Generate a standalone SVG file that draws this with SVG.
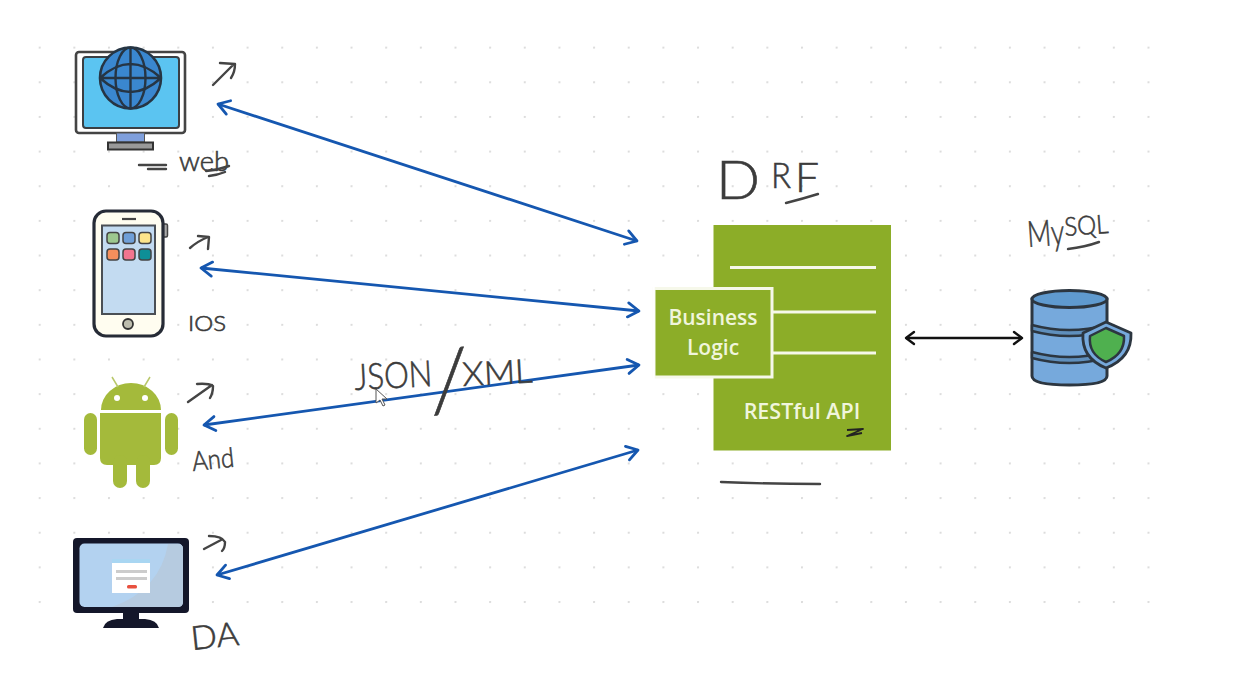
<svg xmlns="http://www.w3.org/2000/svg" width="1257" height="691" viewBox="0 0 1257 691">
<style>
.hand{font-family:"Lato","Open Sans",sans-serif;font-weight:300;fill:#3c3c3c;stroke:#3c3c3c;stroke-width:.6}
.ink{fill:none;stroke:#444;stroke-width:2.4;stroke-linecap:round;stroke-linejoin:round}
.lab{font-family:"Open Sans","Liberation Sans",sans-serif;font-weight:600;fill:#f0f5dc;text-anchor:middle}
.blue{fill:none;stroke:#1557b0;stroke-width:2.8;marker-start:url(#bs);marker-end:url(#be)}
.black{fill:none;stroke:#111;stroke-width:2.4;marker-start:url(#ks);marker-end:url(#ke)}
.globe{fill:none;stroke:#263544;stroke-width:2.4}
.db{fill:#76a9dc;stroke:#2c3640;stroke-width:3}
</style>
<defs>
<pattern id="dots" x="38.7" y="12" width="34.65" height="34.65" patternUnits="userSpaceOnUse"><circle cx="1" cy="1" r="1.1" fill="#d9d9d9"/></pattern>
<marker id="be" markerUnits="userSpaceOnUse" markerWidth="20" markerHeight="20" refX="16" refY="10" orient="auto"><path d="M5 3L16 10L5 17" fill="none" stroke="#1557b0" stroke-width="2.8" stroke-linecap="round" stroke-linejoin="round"/></marker>
<marker id="bs" markerUnits="userSpaceOnUse" markerWidth="20" markerHeight="20" refX="4" refY="10" orient="auto"><path d="M15 3L4 10L15 17" fill="none" stroke="#1557b0" stroke-width="2.8" stroke-linecap="round" stroke-linejoin="round"/></marker>
<marker id="ke" markerUnits="userSpaceOnUse" markerWidth="16" markerHeight="16" refX="13" refY="8" orient="auto"><path d="M5 2L13 8L5 14" fill="none" stroke="#111" stroke-width="2.4" stroke-linecap="round" stroke-linejoin="round"/></marker>
<marker id="ks" markerUnits="userSpaceOnUse" markerWidth="16" markerHeight="16" refX="3" refY="8" orient="auto"><path d="M11 2L3 8L11 14" fill="none" stroke="#111" stroke-width="2.4" stroke-linecap="round" stroke-linejoin="round"/></marker>
</defs>
<rect width="1257" height="691" fill="#fff"/>
<rect x="38" y="46" width="1115" height="570" fill="url(#dots)"/>

<g id="web">
<rect x="76" y="52" width="109" height="81" rx="3" fill="#fff" stroke="#444" stroke-width="2.6"/>
<rect x="83" y="57" width="96" height="71" rx="3" fill="#5bc4f1" stroke="#3a3f44" stroke-width="2"/>
<rect x="116.500" y="133" width="28" height="9" fill="#7f9fdc" stroke="#555" stroke-width="1"/>
<rect x="108" y="142.500" width="45" height="7" fill="#999" stroke="#333" stroke-width="2"/>
<circle cx="130.500" cy="78" r="30.500" fill="#3a87cf" stroke="#263544" stroke-width="2.600"/>
<ellipse class="globe" cx="130.500" cy="78" rx="15" ry="30.500"/>
<path class="globe" d="M130.500 47.500V108.500M100 78H161M100 78Q130.500 50 161 78M100 78Q130.500 106 161 78"/>
<path class="ink" d="M139 165H166M148 169H166"/>
<text class="hand" x="179" y="171" font-size="27" textLength="50" lengthAdjust="spacingAndGlyphs">web</text>
<path class="ink" d="M206 171Q218 170 229 166M209 176Q218 175 225 172"/>
</g>

<g id="ios">
<rect x="160" y="224" width="7.500" height="13" rx="1.500" fill="#aaa" stroke="#444" stroke-width="1.500"/>
<rect x="94" y="211" width="69" height="125" rx="12" fill="#fffdf0" stroke="#262b36" stroke-width="3.200"/>
<rect x="102" y="225.500" width="53" height="88.500" fill="#c3dbf1" stroke="#4a4f55" stroke-width="2"/>
<path d="M122 219H136" stroke="#444" stroke-width="2.200"/>
<circle cx="128" cy="324" r="5" fill="#bdbdae" stroke="#333" stroke-width="1.800"/>
<g stroke="#444" stroke-width="1.500">
<rect x="107" y="232.500" width="12" height="11" rx="3" fill="#9dc88f"/>
<rect x="123" y="232.500" width="12" height="11" rx="3" fill="#6f9fd8"/>
<rect x="139" y="232.500" width="12" height="11" rx="3" fill="#fde58b"/>
<rect x="107" y="249" width="12" height="11" rx="3" fill="#f58f5c"/>
<rect x="123" y="249" width="12" height="11" rx="3" fill="#f2748f"/>
<rect x="139" y="249" width="12" height="11" rx="3" fill="#0e8f97"/>
</g>
<text class="hand" x="188" y="331" font-size="21" textLength="38" lengthAdjust="spacingAndGlyphs">IOS</text>
</g>

<g id="android">
<g fill="#a4ba3b">
<path d="M101 410A30 27 0 0 1 161 410Z"/>
<path d="M100 413H161V458Q161 465 154 465H107Q100 465 100 458Z"/>
<rect x="84" y="413" width="13" height="42" rx="6.500"/>
<rect x="165" y="413" width="13" height="42" rx="6.500"/>
<rect x="113" y="455" width="14" height="33" rx="7"/>
<rect x="136" y="455" width="14" height="33" rx="7"/>
</g>
<path d="M112 377L118 387M150 377L144 387" stroke="#b9c86a" stroke-width="1.500"/>
<circle cx="117" cy="398" r="3" fill="#fff"/><circle cx="145" cy="398" r="3" fill="#fff"/>
<text class="hand" x="193" y="471" font-size="27" textLength="42" lengthAdjust="spacingAndGlyphs" transform="rotate(-6 193 471)">And</text>
</g>

<g id="desktop-app">
<rect x="73" y="538" width="116" height="75" rx="4" fill="#14172a"/>
<rect x="79.500" y="543.500" width="103.500" height="63.500" rx="5" fill="#b3d2f0"/>
<path d="M168 544Q160 590 112 607H178Q183 607 183 602V549Q183 544 178 544Z" fill="#b6cbe0"/>
<rect x="112" y="559" width="38" height="34" fill="#fff"/>
<rect x="112" y="559" width="38" height="4" fill="#a9d6f2"/>
<rect x="116" y="570" width="31" height="3" fill="#ccc"/>
<rect x="116" y="577" width="31" height="3" fill="#ccc"/>
<rect x="127" y="585" width="10" height="3.500" rx="1.500" fill="#e8503f"/>
<rect x="123" y="613" width="16" height="8" fill="#14172a"/>
<path d="M103 628Q105 620 117 619H145Q157 620 159 628Z" fill="#14172a"/>
<text class="hand" x="192" y="650" font-size="33" textLength="48" lengthAdjust="spacingAndGlyphs" transform="rotate(-6 192 650)">DA</text>
</g>

<g id="api">
<text class="hand" x="716" y="199" font-size="54" textLength="44" lengthAdjust="spacingAndGlyphs">D</text>
<text class="hand" x="771" y="188" font-size="36" textLength="20" lengthAdjust="spacingAndGlyphs">R</text>
<text class="hand" x="795" y="192" font-size="42" textLength="24" lengthAdjust="spacingAndGlyphs">F</text>
<path class="ink" d="M786 203Q802 199 818 194" stroke-width="2.600"/>
<rect x="713.500" y="225" width="177.500" height="225.500" fill="#8cad28"/>
<path d="M730 267.500H876M772 312H876M772 353H876" stroke="#f6f8ea" stroke-width="3" fill="none"/>
<rect x="654" y="288.500" width="118" height="88.500" fill="#8cad28" stroke="#f6f8ea" stroke-width="3"/>
<path d="M653.500 287V379" stroke="#fff" stroke-width="2.500"/>
<text class="lab" x="713" y="325" font-size="21">Business</text>
<text class="lab" x="713" y="355" font-size="21">Logic</text>
<text class="lab" x="802" y="419" font-size="21.500">RESTful API</text>
<path d="M847 430L863 429L847 436L862 433" fill="none" stroke="#222" stroke-width="1.800" stroke-linejoin="round"/>
<path d="M721 482Q770 484 820 484" class="ink" stroke-width="1.800"/>
</g>

<g id="mysql">
<text class="hand" x="1028" y="247" font-size="36" textLength="37" lengthAdjust="spacingAndGlyphs" transform="rotate(-4 1028 247)">My</text>
<text class="hand" x="1065" y="236" font-size="26" textLength="44" lengthAdjust="spacingAndGlyphs" transform="rotate(-4 1065 236)">SQL</text>
<path class="ink" d="M1068 249Q1085 247 1099 242"/>
<path class="db" d="M1032 299V376Q1032 385 1069.500 385Q1107 385 1107 376V299Z"/>
<ellipse cx="1069.500" cy="299" rx="37.500" ry="8.500" fill="#5f9acf" stroke="#2c3640" stroke-width="3"/>
<path d="M1032 325Q1069 335 1107 325V331Q1069 341 1032 331ZM1032 352Q1069 362 1107 352V358Q1069 368 1032 358Z" fill="#5f8fbc" stroke="#2c3640" stroke-width="2.500" stroke-linejoin="round"/>
<path d="M1106 322L1131 333Q1132 358 1106 368Q1081 358 1083 333Z" fill="#76a9dc" stroke="#2c3640" stroke-width="2.800" stroke-linejoin="round"/>
<path d="M1106 328L1124 336Q1125 354 1106 362Q1088 354 1090 336Z" fill="#4fb04f" stroke="#2c3640" stroke-width="2.500" stroke-linejoin="round"/>
</g>

<g id="connectors">
<path class="blue" d="M218 104L637 241"/>
<path class="blue" d="M201 268L639 311"/>
<path class="blue" d="M204 425L639 365"/>
<path class="blue" d="M217 575L638 450"/>
<path class="black" d="M906 338H1022"/>
<path class="ink" d="M213 85L233 65M220 63L235 64Q235 72 231 78"/>
<path class="ink" d="M190 248Q198 241 208 237M198 236L209 237L208 249"/>
<path class="ink" d="M188 402L212 385M197 384Q208 383 213 386Q213 393 210 398"/>
<path class="ink" d="M204 549L221 540M209 536Q222 536 225 542Q225 548 222 551"/>
</g>

<g id="format-label">
<text class="hand" x="355" y="390" font-size="36" textLength="78" lengthAdjust="spacingAndGlyphs" transform="rotate(-3 355 390)">JSON</text>
<text class="hand" x="431" y="412" font-size="88" transform="rotate(-2 431 412)">/</text>
<text class="hand" x="463" y="386" font-size="33" textLength="70" lengthAdjust="spacingAndGlyphs" transform="rotate(-3 463 386)">XML</text>
<path d="M376 389V403L380 400L383 406L385 405L382 399H387Z" fill="#fff" stroke="#555" stroke-width="1"/>
</g>
</svg>
